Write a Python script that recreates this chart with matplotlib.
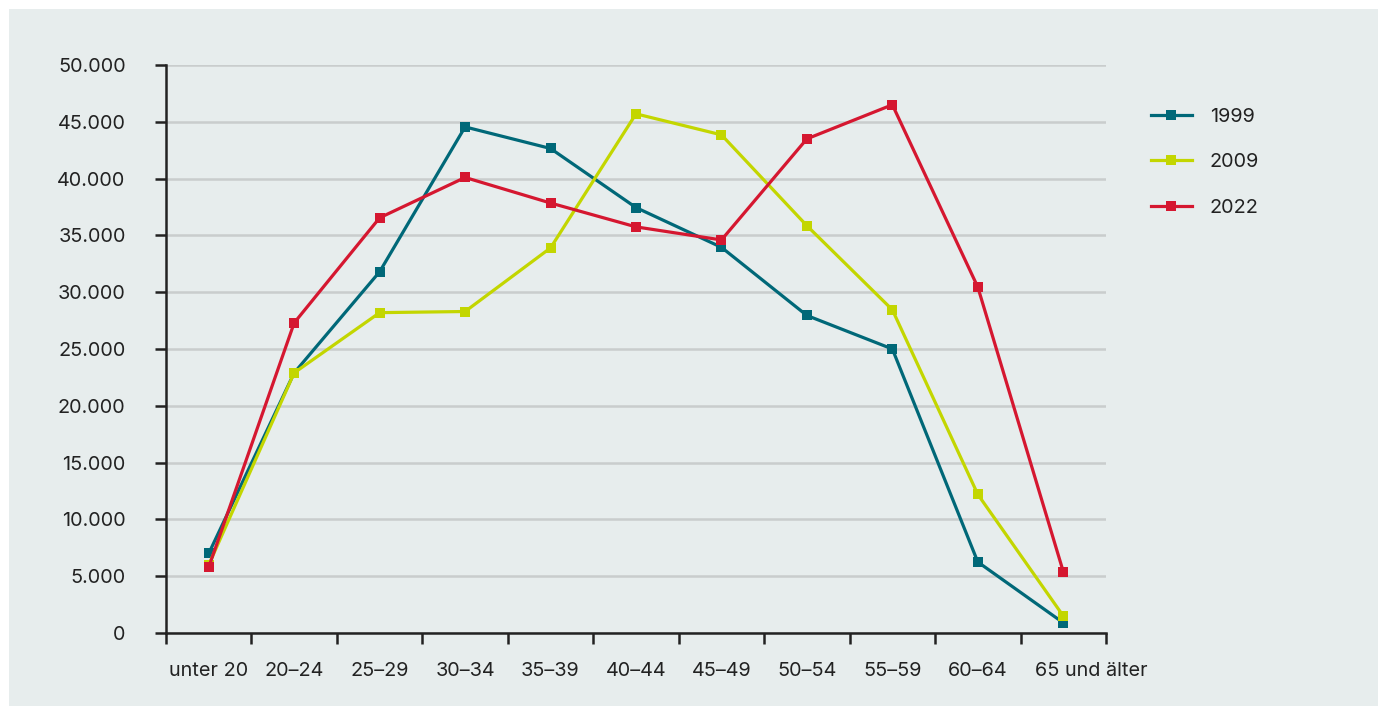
import matplotlib
matplotlib.use("Agg")
import matplotlib.pyplot as plt
import matplotlib.transforms as mtransforms
from matplotlib.patches import Rectangle
from matplotlib.ticker import FixedLocator, FuncFormatter

categories = ["unter 20", "20–24", "25–29", "30–34", "35–39", "40–44",
              "45–49", "50–54", "55–59", "60–64", "65 und älter"]
v1999 = [7000, 22900, 31800, 44550, 42650, 37450, 33950, 27950, 25000, 6250, 900]
v2009 = [6000, 22900, 28200, 28300, 33900, 45700, 43850, 35850, 28450, 12200, 1500]
v2022 = [5800, 27300, 36550, 40100, 37850, 35750, 34600, 43500, 46500, 30450, 5400]
series = [("1999", v1999, "#006878"), ("2009", v2009, "#c3d600"), ("2022", v2022, "#d51730")]
yticks = [0, 5000, 10000, 15000, 20000, 25000, 30000, 35000, 40000, 45000, 50000]

plt.rcParams['font.family'] = ['Inter', 'DejaVu Sans']
FS = 14.3

W, H = 1378, 706
fig = plt.figure(figsize=(W / 100, H / 100), dpi=100, facecolor="white")
fig.patches.append(Rectangle((9 / W, 0), 1 - 9 / W, 1 - 9 / H, transform=fig.transFigure,
                             facecolor="#e7eded", edgecolor="none", zorder=-10))

ax = fig.add_axes([166 / W, (H - 633) / H, (1106 - 166) / W, (633 - 65) / H])
ax.set_facecolor("none")

x = [i + 0.5 for i in range(len(categories))]
for name, vals, col in series:
    ax.plot(x, vals, color=col, lw=2.3, marker="s", markersize=7.5,
            markeredgewidth=0, label=name, clip_on=False, zorder=3)

ax.set_xlim(0, len(categories))
ax.set_ylim(0, 50000)

ax.set_yticks(yticks)
ax.yaxis.set_major_formatter(FuncFormatter(lambda v, p: f"{int(v):,}".replace(",", ".")))
ax.grid(axis="y", color="#c9cdcd", lw=1.8, zorder=0)
ax.set_axisbelow(True)

ax.xaxis.set_major_locator(FixedLocator(range(len(categories) + 1)))
ax.xaxis.set_major_formatter(FuncFormatter(lambda v, p: ""))
ax.xaxis.set_minor_locator(FixedLocator(x))
ax.set_xticklabels(categories, minor=True)

ax.tick_params(axis="x", which="major", length=8, width=1.8, color="#222222", direction="out")
ax.tick_params(axis="x", which="minor", length=0, pad=21, labelsize=FS, labelcolor="#222222")
ax.tick_params(axis="y", length=8, width=1.8, color="#222222", pad=21,
               labelsize=FS, labelcolor="#222222")

# last label sits shifted to the right in the reference
last = ax.xaxis.get_minor_ticks()[-1].label1
last.set_transform(last.get_transform() + mtransforms.ScaledTranslation(28 / 100, 0, fig.dpi_scale_trans))

for s in ["top", "right"]:
    ax.spines[s].set_visible(False)
for s in ["left", "bottom"]:
    ax.spines[s].set_color("#222222")
    ax.spines[s].set_linewidth(1.8)

leg = ax.legend(loc="upper left", bbox_to_anchor=(1151 / W, (H - 108) / H),
                bbox_transform=fig.transFigure, frameon=False, fontsize=FS,
                handlelength=2.05, handletextpad=0.9, labelspacing=1.38,
                borderaxespad=0, borderpad=0)
for t in leg.get_texts():
    t.set_color("#222222")

fig.savefig("out.png", dpi=100, facecolor="white")
